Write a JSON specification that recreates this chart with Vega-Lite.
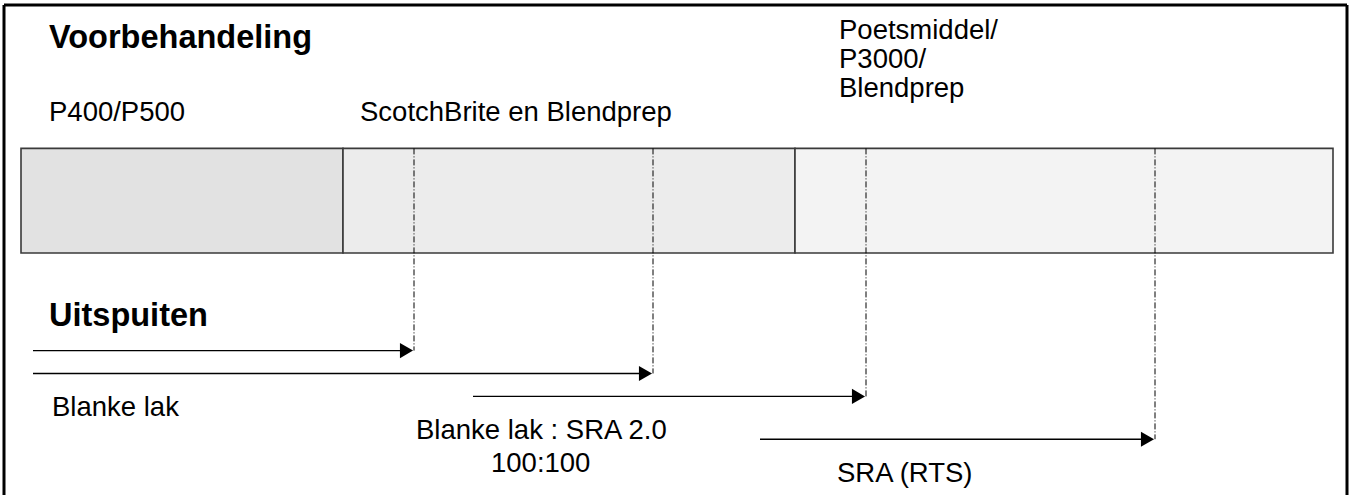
{
  "$schema": "https://vega.github.io/schema/vega-lite/v6.json",
  "width": 1350,
  "height": 497,
  "padding": 0,
  "autosize": {"type": "fit", "contains": "padding"},
  "background": "white",
  "config": {"view": {"stroke": null}},
  "datasets": {
    "frame": [
      {"x": 4, "x2": 4, "y": 5, "y2": 497},
      {"x": 4, "x2": 1347, "y": 5, "y2": 5},
      {"x": 1347, "x2": 1347, "y": 5, "y2": 497}
    ],
    "segments": [
      {"stage": "P400/P500", "x": 21, "x2": 343, "y": 149, "y2": 254},
      {"stage": "ScotchBrite en Blendprep", "x": 343, "x2": 795, "y": 149, "y2": 254},
      {"stage": "Poetsmiddel/P3000/Blendprep", "x": 795, "x2": 1333, "y": 149, "y2": 254}
    ],
    "guides": [
      {"x": 414, "y": 149, "y2": 352},
      {"x": 653, "y": 149, "y2": 375},
      {"x": 866, "y": 149, "y2": 398},
      {"x": 1155, "y": 149, "y2": 441}
    ],
    "arrows": [
      {"x": 33, "x2": 402, "tip": 406.5, "y": 352},
      {"x": 33, "x2": 641, "tip": 645.5, "y": 375},
      {"x": 473, "x2": 854, "tip": 858.5, "y": 398},
      {"x": 760, "x2": 1143, "tip": 1147.5, "y": 441}
    ],
    "bold": [
      {"label": "Voorbehandeling", "x": 49, "y": 48},
      {"label": "Uitspuiten", "x": 49, "y": 327}
    ],
    "regular": [
      {"label": "P400/P500", "x": 49, "y": 121},
      {"label": "ScotchBrite en Blendprep", "x": 360, "y": 121},
      {"label": "Poetsmiddel/", "x": 839, "y": 39},
      {"label": "P3000/", "x": 839, "y": 68},
      {"label": "Blendprep", "x": 839, "y": 97},
      {"label": "Blanke lak", "x": 52, "y": 418},
      {"label": "Blanke lak : SRA 2.0", "x": 416, "y": 441},
      {"label": "100:100", "x": 491, "y": 474},
      {"label": "SRA  (RTS)", "x": 837, "y": 484}
    ]
  },
  "layer": [
    {
      "data": {"name": "segments"},
      "mark": {"type": "rect", "stroke": "#3a3a3a", "strokeWidth": 1.6},
      "encoding": {
        "x": {"field": "x", "type": "quantitative", "scale": {"domain": [0, 1350], "nice": false, "zero": false}, "axis": null},
        "x2": {"field": "x2"},
        "y": {"field": "y", "type": "quantitative", "scale": {"domain": [0, 497], "nice": false, "zero": false, "reverse": true}, "axis": null},
        "y2": {"field": "y2"},
        "fill": {"field": "stage", "type": "nominal", "legend": null,
          "scale": {"domain": ["P400/P500", "ScotchBrite en Blendprep", "Poetsmiddel/P3000/Blendprep"], "range": ["#e2e2e2", "#ececec", "#f3f3f3"]}}
      }
    },
    {
      "data": {"name": "frame"},
      "mark": {"type": "rule", "stroke": "black", "strokeWidth": 3},
      "encoding": {
        "x": {"field": "x", "type": "quantitative"},
        "x2": {"field": "x2"},
        "y": {"field": "y", "type": "quantitative"},
        "y2": {"field": "y2"}
      }
    },
    {
      "data": {"name": "guides"},
      "mark": {"type": "rule", "stroke": "black", "strokeWidth": 1, "strokeDash": [6, 2, 1, 2]},
      "encoding": {
        "x": {"field": "x", "type": "quantitative"},
        "y": {"field": "y", "type": "quantitative"},
        "y2": {"field": "y2"}
      }
    },
    {
      "data": {"name": "arrows"},
      "mark": {"type": "rule", "stroke": "black", "strokeWidth": 1.4},
      "encoding": {
        "x": {"field": "x", "type": "quantitative"},
        "x2": {"field": "x2"},
        "y": {"field": "y", "type": "quantitative"}
      }
    },
    {
      "data": {"name": "arrows"},
      "mark": {"type": "point", "shape": "triangle-right", "filled": true, "color": "black", "size": 230, "opacity": 1},
      "encoding": {
        "x": {"field": "tip", "type": "quantitative"},
        "y": {"field": "y", "type": "quantitative"}
      }
    },
    {
      "data": {"name": "bold"},
      "mark": {"type": "text", "font": "Liberation Sans", "fontSize": 32.5, "fontWeight": "bold", "align": "left", "baseline": "alphabetic", "color": "black"},
      "encoding": {
        "x": {"field": "x", "type": "quantitative"},
        "y": {"field": "y", "type": "quantitative"},
        "text": {"field": "label"}
      }
    },
    {
      "data": {"name": "regular"},
      "mark": {"type": "text", "font": "Liberation Sans", "fontSize": 27.5, "align": "left", "baseline": "alphabetic", "color": "black"},
      "encoding": {
        "x": {"field": "x", "type": "quantitative"},
        "y": {"field": "y", "type": "quantitative"},
        "text": {"field": "label"}
      }
    }
  ]
}
